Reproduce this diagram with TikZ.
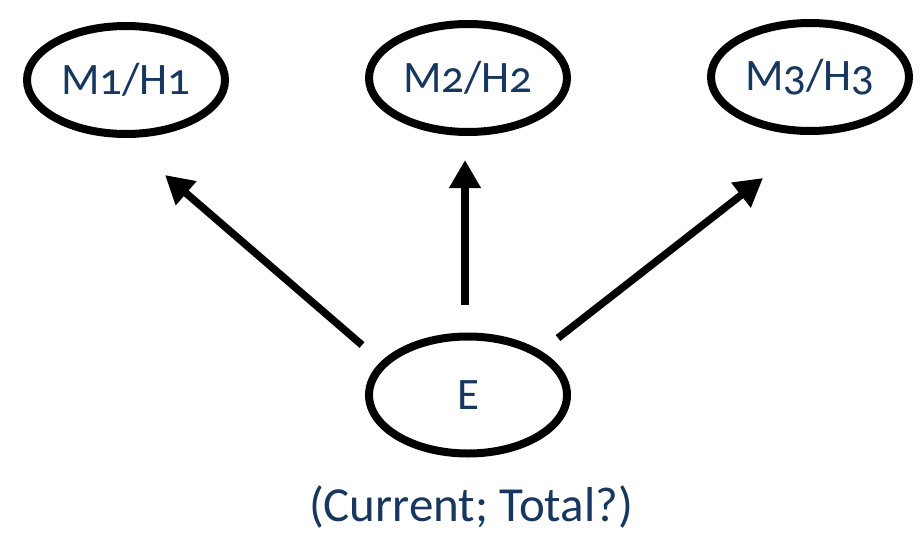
\documentclass[tikz,border=0pt]{standalone}
\usepackage{fontspec}
\setmainfont{Carlito}[Numbers=OldStyle]
\usetikzlibrary{arrows.meta,shapes.geometric}
\definecolor{navy}{HTML}{17375E}
\tikzset{
  hyp/.style={ellipse, draw=black, line width=8pt, fill=white,
    minimum width=198pt, minimum height=108pt, inner sep=0pt,
    text=navy, font=\fontsize{45}{50}\selectfont},
  arr/.style={line width=7.5pt, -{Triangle[length=28pt,width=30pt]}}
}
\begin{document}
\begin{tikzpicture}[x=1pt,y=-1pt]
  \useasboundingbox (0,0) rectangle (924,533);
  % hypothesis ellipses
  \node[hyp] (M1) at (126,80) {\raisebox{3pt}{M1/H1}};
  \node[hyp] (M2) at (468,78) {\raisebox{3pt}{M2/H2}};
  \node[hyp] (M3) at (810,77) {\raisebox{3pt}{M3/H3}};
  % evidence ellipse
  \node[hyp, minimum height=117pt] (E) at (468,395) {E};
  \node[text=navy, font=\fontsize{49}{54}\selectfont, anchor=center] (lbl) at (471,507) {(Current; Total?)};
  % evidence supports each hypothesis
  \draw[arr] ([shift={(-106,-50)}]E.center) -- ([shift={(39,95)}]M1.center);
  \draw[arr] ([shift={(-3,-90)}]E.center) -- ([shift={(-3,82)}]M2.center);
  \draw[arr] ([shift={(90,-57)}]E.center) -- ([shift={(-47,101)}]M3.center);
\end{tikzpicture}
\end{document}
